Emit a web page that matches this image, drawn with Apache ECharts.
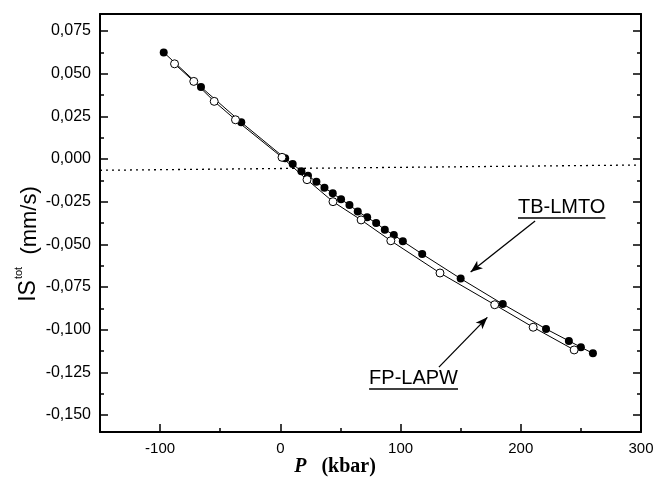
<!DOCTYPE html>
<html><head><meta charset="utf-8">
<script src="https://cdn.jsdelivr.net/npm/echarts@6/dist/echarts.min.js"></script>
<style>html,body{margin:0;padding:0;background:#fff}#c{width:658px;height:479px}</style>
</head><body><div id="c"></div>
<script>
// TB-LMTO (filled circles)
const lmtoP  = [-97, -66, -32.5, 4, 10.3, 17.5, 23, 30, 36.7, 43.6, 50.5, 57.5, 64.4, 72.2, 79.7, 86.9, 94.4, 101.9, 118, 150, 185, 221, 240, 250, 260];
const lmtoIS = [0.0625, 0.0422, 0.0215, 0.0004, -0.0029, -0.0072, -0.0098, -0.0133, -0.0168, -0.0201, -0.0236, -0.0270, -0.0307, -0.0342, -0.0375, -0.0414, -0.0445, -0.0482, -0.0557, -0.0701, -0.0850, -0.0996, -0.1066, -0.1103, -0.1139];
// FP-LAPW (open circles)
const lapwP  = [-88, -72, -55, -37.3, 1.4, 22.2, 43.8, 67.2, 91.9, 132.8, 178.3, 210.3, 244.4];
const lapwIS = [0.0558, 0.0455, 0.0338, 0.0230, 0.0010, -0.0121, -0.0250, -0.0357, -0.0479, -0.0668, -0.0854, -0.0986, -0.1119];
// dotted reference line
const refP  = [-150, 300];
const refIS = [-0.0066, -0.0035];
// ticks
const xTickLabels = [-100, 0, 100, 200, 300];
const xMinorTicks = [-50, 50, 150, 250];
const yTickLabels = [-0.150, -0.125, -0.100, -0.075, -0.050, -0.025, 0.000, 0.025, 0.050, 0.075];
const yMinorTicks = [-0.1375, -0.1125, -0.0875, -0.0625, -0.0375, -0.0125, 0.0125, 0.0375, 0.0625];

const zip = (a, b) => a.map((v, i) => [v, b[i]]);
const SANS = 'Liberation Sans, Arial, sans-serif';
const XMIN = -150, XMAX = 300, YMIN = -0.16, YMAX = 0.085;

const chart = echarts.init(document.getElementById('c'), null, {renderer: 'canvas'});

const hiddenLine = {show: false, onZero: false};
const frameLine = {show: true, onZero: false, lineStyle: {color: '#000', width: 2}};
function xAx(extra) {
  return Object.assign({
    type: 'value', min: XMIN, max: XMAX, interval: 50, gridIndex: 0, offset: 0,
    splitLine: {show: false},
    axisLine: hiddenLine,
    axisTick: {show: false},
    axisLabel: {show: false}
  }, extra);
}
function yAx(extra) {
  return Object.assign({
    type: 'value', min: YMIN, max: YMAX, gridIndex: 0, offset: 0,
    splitLine: {show: false},
    axisLine: hiddenLine,
    axisTick: {show: false},
    axisLabel: {show: false}
  }, extra);
}

const option = {
  animation: false,
  backgroundColor: '#fff',
  grid: {left: 100, right: 17, top: 14, bottom: 47, containLabel: false},
  xAxis: [
    xAx({position: 'bottom', axisLine: frameLine,
      axisTick: {show: true, inside: true, length: 8, customValues: [-100, 0, 100, 200], lineStyle: {color: '#000', width: 1.5}},
      axisLabel: {show: true, customValues: xTickLabels, color: '#000', fontSize: 15, fontFamily: SANS, margin: 9}}),
    xAx({position: 'bottom',
      axisTick: {show: true, inside: true, length: 4, customValues: xMinorTicks, lineStyle: {color: '#000', width: 1.5}}}),
    xAx({position: 'top', axisLine: frameLine})
  ],
  yAxis: [
    yAx({position: 'left', axisLine: frameLine,
      axisTick: {show: true, inside: true, length: 8, customValues: yTickLabels, lineStyle: {color: '#000', width: 1.5}},
      axisLabel: {show: true, customValues: yTickLabels, color: '#000', fontSize: 16, fontFamily: SANS, margin: 9,
        formatter: v => v.toFixed(3).replace('.', ',')}}),
    yAx({position: 'left',
      axisTick: {show: true, inside: true, length: 4, customValues: yMinorTicks, lineStyle: {color: '#000', width: 1.5}}}),
    yAx({position: 'right', axisLine: frameLine,
      axisTick: {show: true, inside: true, length: 8, customValues: yTickLabels, lineStyle: {color: '#000', width: 1.5}}}),
    yAx({position: 'right',
      axisTick: {show: true, inside: true, length: 4, customValues: yMinorTicks, lineStyle: {color: '#000', width: 1.5}}})
  ],
  series: [
    {type: 'line', name: 'ref', data: zip(refP, refIS), symbol: 'none', silent: true,
      lineStyle: {color: '#000', width: 1.3, type: [2, 4]}},
    {type: 'line', name: 'TB-LMTO', data: zip(lmtoP, lmtoIS), symbol: 'circle', symbolSize: 8,
      itemStyle: {color: '#000', borderColor: '#000', borderWidth: 0},
      lineStyle: {color: '#000', width: 1},
      markLine: {silent: true, symbol: ['none', 'arrow'], symbolSize: [7, 12], label: {show: false},
        lineStyle: {color: '#000', width: 1.3, type: 'solid'},
        data: [
          [{coord: [211.9, -0.0363]}, {coord: [158.3, -0.0662]}],
          [{coord: [131.9, -0.1220]}, {coord: [172.2, -0.0928]}]
        ]}},
    {type: 'line', name: 'FP-LAPW', data: zip(lapwP, lapwIS), symbol: 'circle', symbolSize: 8,
      itemStyle: {color: '#fff', borderColor: '#000', borderWidth: 1},
      lineStyle: {color: '#000', width: 1}, z: 3}
  ]
};
chart.setOption(option);

// annotations
const ctx = document.createElement('canvas').getContext('2d');
function tw(txt, font) { ctx.font = font; return ctx.measureText(txt).width; }
const annFont = '20px Liberation Sans';
const tbW = tw('TB-LMTO', annFont), fpW = tw('FP-LAPW', annFont);
const tbX = 518, tbY = 197, fpX = 458 - fpW, fpY = 368;

chart.setOption({
  graphic: [
    {type: 'text', left: tbX, top: tbY, style: {text: 'TB-LMTO', font: annFont, fill: '#000'}},
    {type: 'line', shape: {x1: tbX, y1: tbY + 21, x2: tbX + tbW, y2: tbY + 21}, style: {stroke: '#000', lineWidth: 1.5}},
    {type: 'text', left: fpX, top: fpY, style: {text: 'FP-LAPW', font: annFont, fill: '#000'}},
    {type: 'line', shape: {x1: fpX, y1: fpY + 21, x2: fpX + fpW, y2: fpY + 21}, style: {stroke: '#000', lineWidth: 1.5}},
    {type: 'text', x: 27, y: 244, rotation: Math.PI / 2, originX: 0, originY: 0,
      style: {
        text: '{a|IS}{s|tot}{b|  (mm/s)}', align: 'center', verticalAlign: 'middle',
        rich: {
          a: {fontSize: 23, fontFamily: SANS, fill: '#000', lineHeight: 27, verticalAlign: 'bottom'},
          s: {fontSize: 11, fontFamily: SANS, fill: '#000', lineHeight: 27, verticalAlign: 'top', padding: [0, 0, 8, 1]},
          b: {fontSize: 22, fontFamily: SANS, fill: '#000', lineHeight: 27, verticalAlign: 'bottom'}
        }
      }},
    {type: 'text', x: 335, y: 467,
      style: {
        text: '{p|P}{k|   (kbar)}', align: 'center', verticalAlign: 'middle',
        rich: {
          p: {fontSize: 20, fontFamily: 'Liberation Serif', fontWeight: 'bold', fontStyle: 'italic', fill: '#000'},
          k: {fontSize: 20, fontFamily: 'Liberation Serif', fontWeight: 'bold', fill: '#000'}
        }
      }}
  ]
});
</script>
</body></html>
